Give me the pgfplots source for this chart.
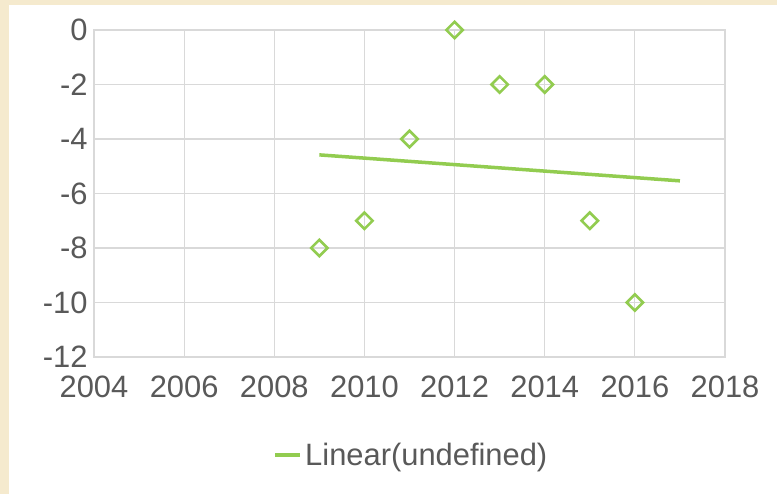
\documentclass[border=0pt]{standalone}
\usepackage{pgfplots}
\pgfplotsset{compat=1.18}
\usepackage{fontspec}
\setmainfont{Liberation Sans}
\definecolor{cream}{RGB}{245,234,206}
\definecolor{gridgray}{RGB}{217,217,217}
\definecolor{textgray}{RGB}{89,89,89}
\definecolor{xlgreen}{RGB}{146,204,80}
\begin{document}
\begin{tikzpicture}[x=1bp,y=1bp]
\fill[cream] (0,0) rectangle (777,494);
\fill[white] (9,0) rectangle (777,489);
\begin{axis}[
  at={(94bp,137bp)}, anchor=south west,
  scale only axis, width=631bp, height=327bp,
  xmin=2004, xmax=2018, ymin=-12, ymax=0,
  xtick={2004,2006,...,2018}, ytick={-12,-10,...,0},
  grid=major, grid style={gridgray, line width=1.2bp},
  axis line style={gridgray, line width=1.2bp},
  tick style={draw=none},
  /pgf/number format/assume math mode=true,
  x tick label style={/pgf/number format/1000 sep=, yshift=-15bp},
  y tick label style={xshift=-3bp},
  ticklabel style={font=\fontsize{31}{36}\selectfont, text=textgray},
  legend style={at={(0.504,-0.30)}, anchor=center, draw=none, fill=none,
    font=\fontsize{31}{36}\selectfont, text=textgray,
    nodes={inner sep=3bp}},
  legend image code/.code={\draw[#1] (0bp,0bp) -- (25bp,0bp);},
]
\addplot[only marks, mark=square, mark size=5.8bp, forget plot,
  mark options={rotate=45, draw=xlgreen, line width=2.6bp, fill=white}]
  coordinates {(2009,-8) (2010,-7) (2011,-4) (2012,0) (2013,-2) (2014,-2) (2015,-7) (2016,-10)};
\addplot[xlgreen, line width=3.5bp, no marks]
  coordinates {(2009,-4.583) (2017,-5.536)};
\addlegendentry{Linear(undefined)}
\end{axis}
\end{tikzpicture}
\end{document}
